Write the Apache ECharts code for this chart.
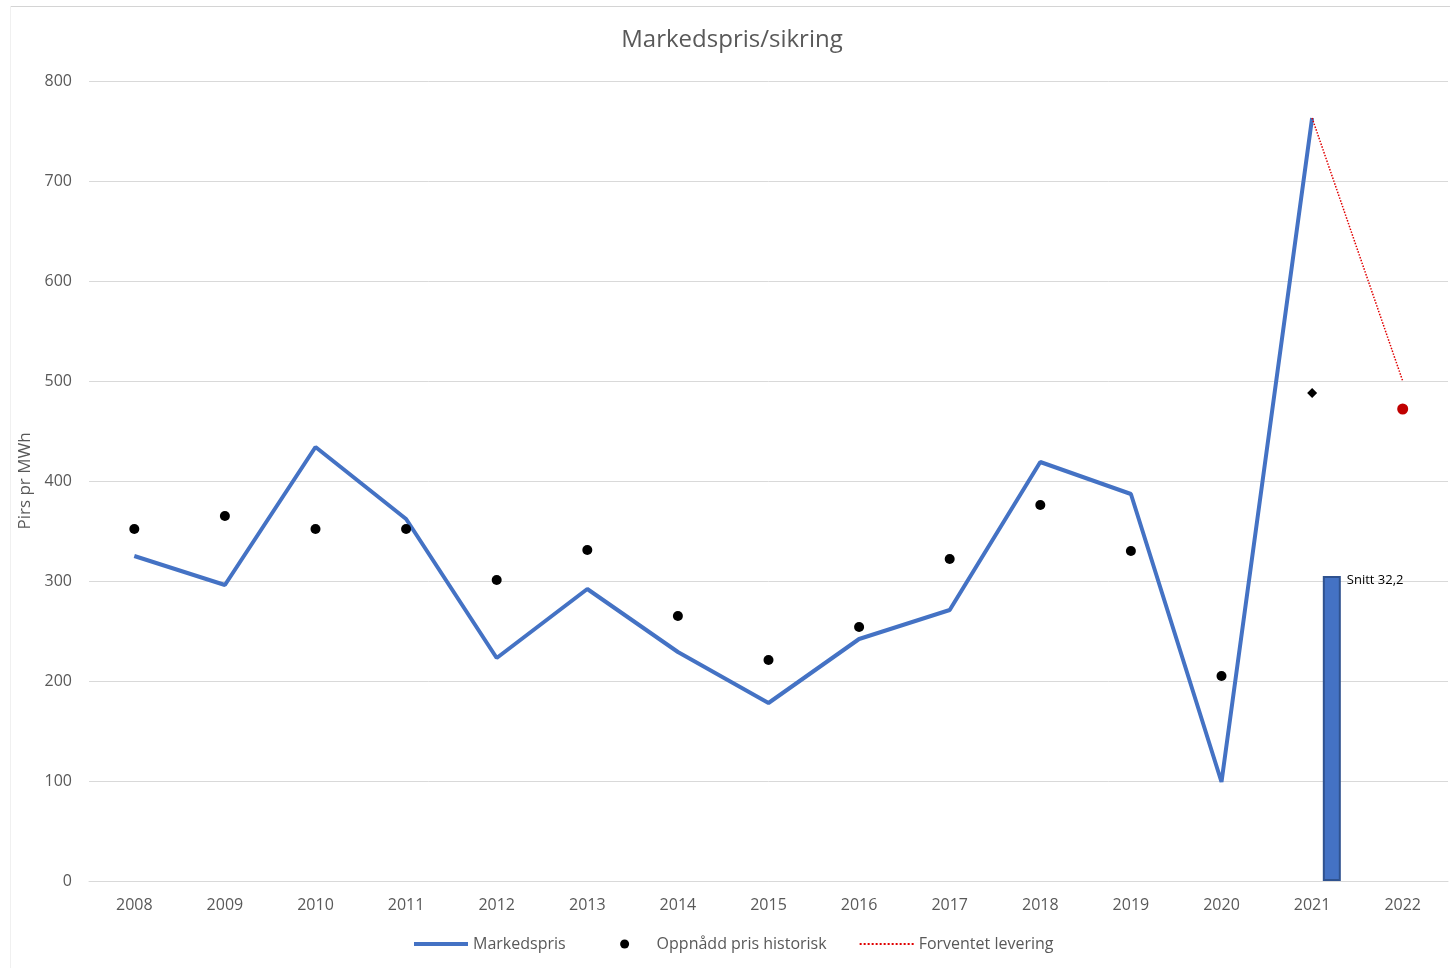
<!DOCTYPE html>
<html>
<head>
<meta charset="utf-8">
<script src="https://cdn.jsdelivr.net/npm/echarts@6/dist/echarts.min.js"></script>
<style>html,body{margin:0;padding:0;background:#fff;}#c{width:1450px;height:968px;}</style>
</head>
<body>
<div id="c"></div>
<script>
var years = ['2008','2009','2010','2011','2012','2013','2014','2015','2016','2017','2018','2019','2020','2021','2022'];
var markedspris = [325, 296, 434, 362, 223, 292, 229, 178, 242, 271, 419, 387, 99, 763, '-'];
var oppnaadd = [352, 365, 352, 352, 301, 331, 265, 221, 254, 322, 376, 330, 205, 488, 472];
var forventet = ['-', '-', '-', '-', '-', '-', '-', '-', '-', '-', '-', '-', '-', 763, 500];
var snitt = ['-', '-', '-', '-', '-', '-', '-', '-', '-', '-', '-', '-', '-', 305, '-'];
var snittLabel = 'Snitt 32,2';
var yTicks = [0, 100, 200, 300, 400, 500, 600, 700, 800];

var FONT = '"Open Sans", sans-serif';
var chart = echarts.init(document.getElementById('c'), null, {renderer: 'canvas'});

var scatterData = oppnaadd.map(function (v, i) {
  if (i === 13) return {value: v, symbol: 'diamond', symbolSize: 10, itemStyle: {color: '#000', opacity: 1}};
  if (i === 14) return {value: v, symbol: 'circle', symbolSize: 11, itemStyle: {color: '#C00000', opacity: 1}};
  return v;
});

chart.setOption({
  animation: false,
  backgroundColor: '#fff',
  graphic: [
    {type: 'line', shape: {x1: 10, y1: 6.5, x2: 1450, y2: 6.5}, style: {stroke: '#d4d4d4', lineWidth: 1}, silent: true},
    {type: 'line', shape: {x1: 10.5, y1: 6, x2: 10.5, y2: 968}, style: {stroke: '#f0f0f0', lineWidth: 1}, silent: true}
  ],
  title: {
    text: 'Markedspris/sikring',
    left: 727, top: 23, textAlign: 'center',
    textStyle: {fontFamily: FONT, fontSize: 24, fontWeight: 'normal', color: '#595959'}
  },
  legend: {
    data: [
      {name: 'Markedspris', itemStyle: {opacity: 0}, lineStyle: {width: 4, color: '#4472C4'}},
      {name: 'Oppnådd pris historisk', icon: 'path://M0,0M54,9M22.5,4.5a4.5,4.5 0 1,0 9,0a4.5,4.5 0 1,0 -9,0Z'},
      {name: 'Forventet levering', itemStyle: {opacity: 0}}
    ],
    bottom: 11, left: 407,
    itemWidth: 54, itemHeight: 9, itemGap: 32,
    textStyle: {fontFamily: FONT, fontSize: 16, color: '#595959'}
  },
  grid: {left: 89, right: 2, top: 81, bottom: 87, containLabel: false},
  xAxis: {
    type: 'category', data: years, boundaryGap: true,
    axisLine: {show: true, lineStyle: {color: '#d9d9d9', width: 1}},
    axisTick: {show: false},
    axisLabel: {fontFamily: FONT, fontSize: 16, color: '#595959', margin: 16}
  },
  yAxis: {
    type: 'value', min: yTicks[0], max: yTicks[yTicks.length - 1], interval: 100,
    name: 'Pirs pr MWh', nameLocation: 'middle', nameGap: 53, nameRotate: 90,
    nameTextStyle: {fontFamily: FONT, fontSize: 17, color: '#595959'},
    axisLine: {show: false}, axisTick: {show: false},
    axisLabel: {fontFamily: FONT, fontSize: 16, color: '#595959', margin: 17},
    splitLine: {lineStyle: {color: '#d9d9d9', width: 1}}
  },
  series: [
    {name: 'dummy', type: 'bar', data: [], barWidth: 18, barGap: '119%', silent: true},
    {
      name: 'Snitt', type: 'bar', data: snitt, barWidth: 18, barGap: '119%',
      itemStyle: {color: '#4472C4', borderColor: '#2F528F', borderWidth: 2},
      label: {
        show: true, position: ['100%', 0], offset: [6, -2], align: 'left', verticalAlign: 'top',
        formatter: function () { return snittLabel; },
        fontFamily: FONT, fontSize: 13, color: '#000'
      },
      z: 1
    },
    {
      name: 'Markedspris', type: 'line', data: markedspris, symbol: 'none',
      lineStyle: {color: '#4472C4', width: 4}, itemStyle: {color: '#4472C4'}, z: 3
    },
    {
      name: 'Oppnådd pris historisk', type: 'scatter', data: scatterData,
      symbol: 'circle', symbolSize: 10, itemStyle: {color: '#000', opacity: 1}, z: 4
    },
    {
      name: 'Forventet levering', type: 'line', data: forventet, symbol: 'none',
      lineStyle: {color: '#E00000', width: 1.5, type: 'dotted'}, itemStyle: {color: '#E00000'}, z: 3
    }
  ]
});
</script>
</body>
</html>
